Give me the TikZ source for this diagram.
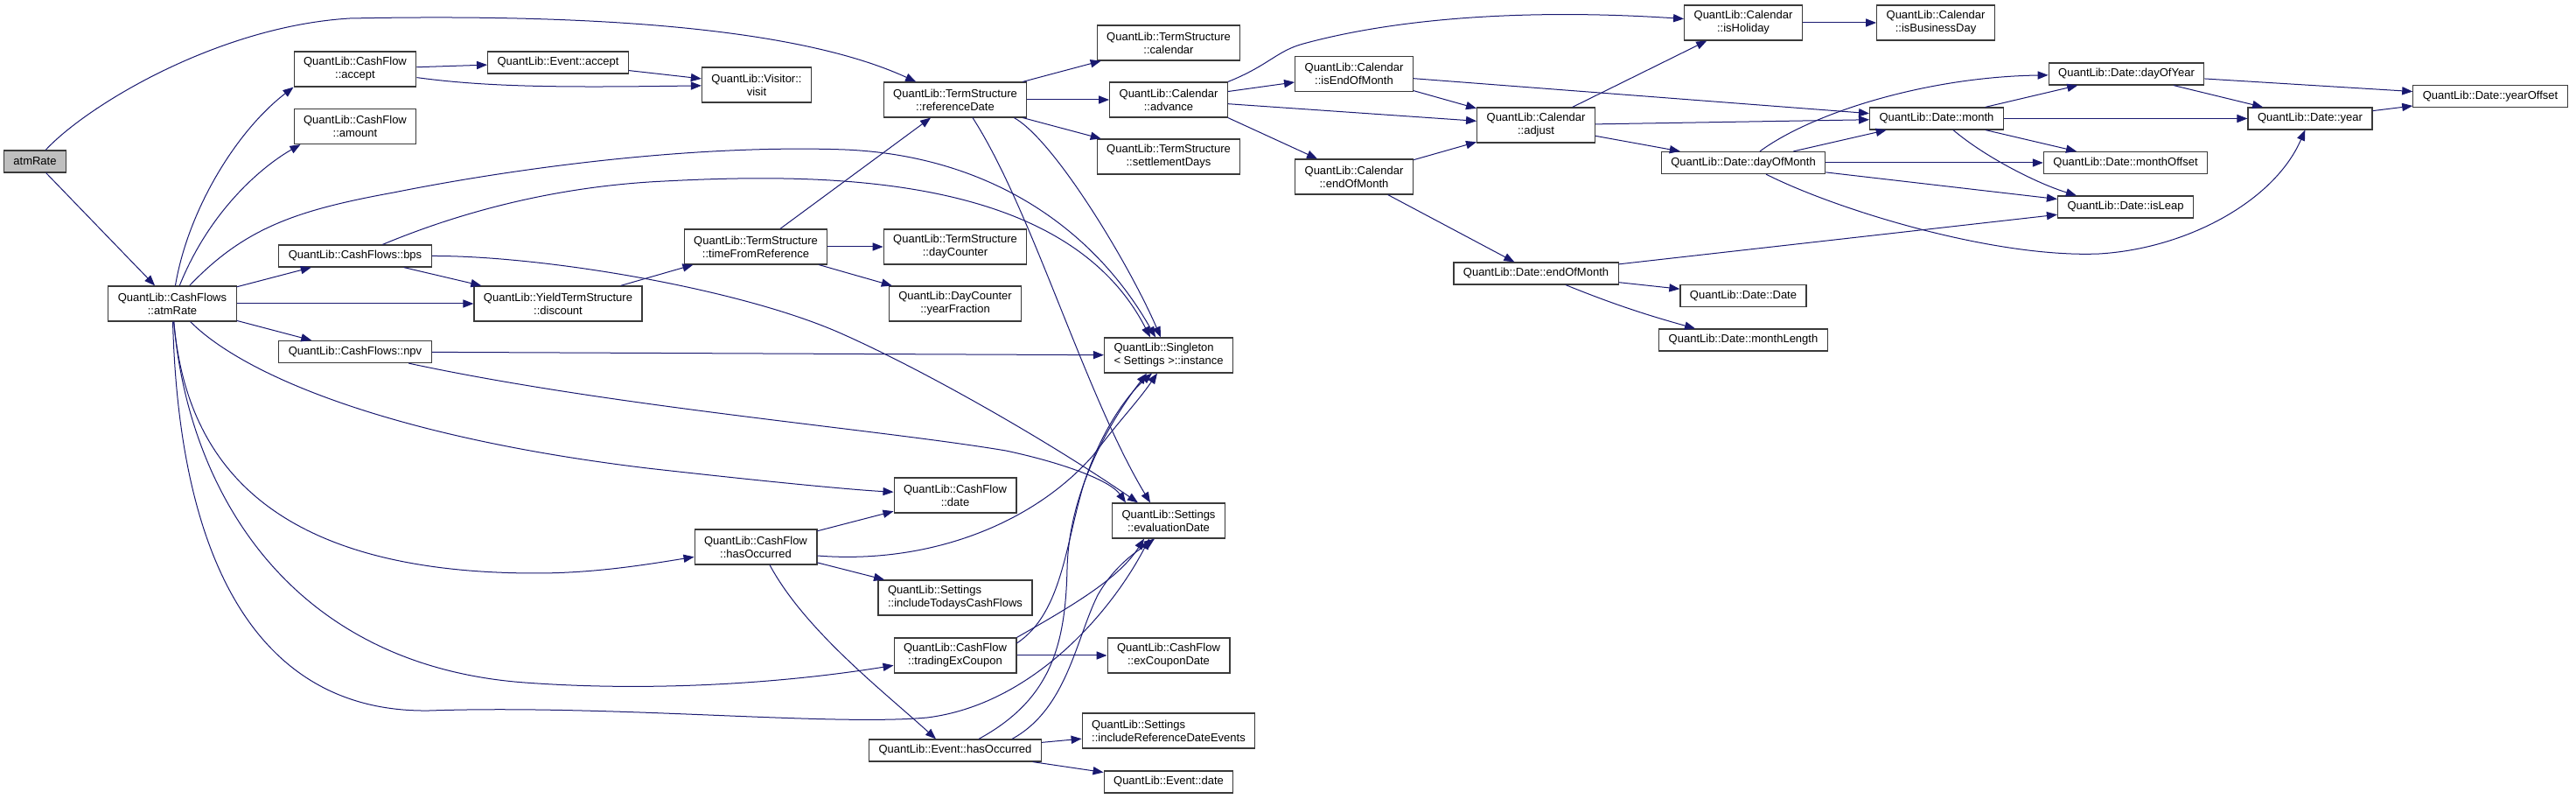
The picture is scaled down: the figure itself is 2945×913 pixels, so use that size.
\documentclass[tikz,border=0pt]{standalone}
\usepackage{fontspec}
\setmainfont{Liberation Sans}
\usepackage{tikz}
\usetikzlibrary{arrows.meta,calc}
\definecolor{callblue}{HTML}{191970}
\definecolor{rootgray}{HTML}{BFBFBF}
\definecolor{boxline}{HTML}{3A3A3A}

\begin{document}
\begin{tikzpicture}[
x=0.5pt,y=-0.5pt,
box/.style={draw=boxline,line width=0.6pt,fill=white,align=center,inner xsep=5.5pt,inner ysep=0pt,minimum height=12.5pt,font=\fontsize{6.5}{7.5}\selectfont},
tbox/.style={box,minimum height=20pt},
lbox/.style={tbox,align=left},
call/.style={-{Triangle[length=6pt,width=4.6pt]},line width=0.5pt,color=callblue}
]
\useasboundingbox (0,0) rectangle (2945,913);
\node[box,fill=rootgray] (root) at (40,184.5) {atmRate};
\node[tbox] (cfsAtm) at (197,347) {QuantLib::CashFlows\\::atmRate};
\node[tbox] (cfAccept) at (406,79) {QuantLib::CashFlow\\::accept};
\node[tbox] (cfAmount) at (406,144.5) {QuantLib::CashFlow\\::amount};
\node[box] (bps) at (406,292.5) {QuantLib::CashFlows::bps};
\node[box] (npv) at (406,402) {QuantLib::CashFlows::npv};
\node[tbox] (discount) at (638,347) {QuantLib::YieldTermStructure\\::discount};
\node[box] (evAccept) at (638,71.5) {QuantLib::Event::accept};
\node[tbox] (visit) at (865,97) {QuantLib::Visitor::\\visit};
\node[tbox] (refDate) at (1092,114) {QuantLib::TermStructure\\::referenceDate};
\node[tbox] (timeRef) at (864,282) {QuantLib::TermStructure\\::timeFromReference};
\node[tbox] (dayCounter) at (1092,282) {QuantLib::TermStructure\\::dayCounter};
\node[tbox] (yearFrac) at (1092,347) {QuantLib::DayCounter\\::yearFraction};
\node[tbox] (cfDate) at (1092,566) {QuantLib::CashFlow\\::date};
\node[tbox] (cfHasOcc) at (864,625) {QuantLib::CashFlow\\::hasOccurred};
\node[lbox] (inclToday) at (1092,683) {QuantLib::Settings\\::includeTodaysCashFlows};
\node[tbox] (tradingEx) at (1092,749) {QuantLib::CashFlow\\::tradingExCoupon};
\node[box] (evHasOcc) at (1092,857.5) {QuantLib::Event::hasOccurred};
\node[tbox] (tsCal) at (1336,49) {QuantLib::TermStructure\\::calendar};
\node[tbox] (advance) at (1336,114) {QuantLib::Calendar\\::advance};
\node[tbox] (settleDays) at (1336,179) {QuantLib::TermStructure\\::settlementDays};
\node[lbox] (instance) at (1336,406) {QuantLib::Singleton\\< Settings >::instance};
\node[tbox] (evalDate) at (1336,595) {QuantLib::Settings\\::evaluationDate};
\node[tbox] (exCoupon) at (1336,749) {QuantLib::CashFlow\\::exCouponDate};
\node[lbox] (inclRef) at (1336,835) {QuantLib::Settings\\::includeReferenceDateEvents};
\node[box] (evDate) at (1336,893.5) {QuantLib::Event::date};
\node[tbox] (isEom) at (1548,84.5) {QuantLib::Calendar\\::isEndOfMonth};
\node[tbox] (calEom) at (1548,202) {QuantLib::Calendar\\::endOfMonth};
\node[tbox] (adjust) at (1756,143) {QuantLib::Calendar\\::adjust};
\node[box] (dateEom) at (1756,312.5) {QuantLib::Date::endOfMonth};
\node[tbox] (isHoliday) at (1993,26) {QuantLib::Calendar\\::isHoliday};
\node[box] (dayOfMonth) at (1993,186) {QuantLib::Date::dayOfMonth};
\node[box] (dateDate) at (1993,338) {QuantLib::Date::Date};
\node[box] (monthLen) at (1993,388.5) {QuantLib::Date::monthLength};
\node[tbox] (isBusDay) at (2213,26) {QuantLib::Calendar\\::isBusinessDay};
\node[box] (month) at (2214,135.5) {QuantLib::Date::month};
\node[box] (dayOfYear) at (2431,84.5) {QuantLib::Date::dayOfYear};
\node[box] (monthOff) at (2430,186) {QuantLib::Date::monthOffset};
\node[box] (isLeap) at (2430,236.5) {QuantLib::Date::isLeap};
\node[box] (year) at (2641,135.5) {QuantLib::Date::year};
\node[box] (yearOff) at (2847,110) {QuantLib::Date::yearOffset};
\draw[call] (root) -- (cfsAtm);
\draw[call] (root) .. controls (100,120) and (250,30) .. (400,21) .. controls (700,15) and (920,35) .. (refDate);
\draw[call] (cfsAtm) .. controls (215,240) and (270,150) .. (cfAccept.south west);
\draw[call] (cfsAtm) .. controls (240,240) and (300,190) .. ($(cfAmount.south west)+(8,0)$);
\draw[call] (cfsAtm) -- (bps);
\draw[call] (cfsAtm) -- (discount);
\draw[call] (cfsAtm) -- (npv);
\draw[call] (cfsAtm) .. controls (280,260) and (340,240) .. (450,220) .. controls (600,190) and (800,165) .. (966,171) .. controls (1130,178) and (1250,260) .. ($(instance.north)+(-15,0)$);
\draw[call] (cfsAtm) .. controls (212,520) and (300,655) .. (613,655) .. controls (680,655) and (740,645) .. (cfHasOcc);
\draw[call] (cfsAtm) .. controls (215,560) and (330,760) .. (600,780) .. controls (750,791) and (900,780) .. (tradingEx);
\draw[call] (cfsAtm) .. controls (205,650) and (300,815) .. (491,812) .. controls (700,805) and (950,830) .. (1060,820) .. controls (1180,805) and (1270,700) .. ($(evalDate.south)+(-22,0)$);
\draw[call] (cfsAtm) .. controls (280,430) and (450,500) .. (740,535) .. controls (900,553) and (980,560) .. (cfDate);
\draw[call] (cfAccept) -- (evAccept);
\draw[call] (cfAccept) .. controls (560,100) and (650,100) .. (visit);
\draw[call] (evAccept) -- (visit);
\draw[call] (bps) -- (discount);
\draw[call] (bps) .. controls (520,245) and (630,213) .. (760,207) .. controls (950,197) and (1220,200) .. ($(instance.north)+(-21,0)$);
\draw[call] (bps.east) .. controls (620,292) and (850,330) .. (966,383) .. controls (1060,425) and (1200,505) .. ($(evalDate.north)+(-35,0)$);
\draw[call] (npv) -- (instance);
\draw[call] (npv) .. controls (700,465) and (1000,490) .. (1150,515) .. controls (1220,530) and (1270,550) .. ($(evalDate.north)+(-49,0)$);
\draw[call] (discount) -- (timeRef);
\draw[call] (refDate) -- (tsCal);
\draw[call] (refDate) -- (advance);
\draw[call] (refDate) -- (settleDays);
\draw[call] ($(refDate.south east)+(-15,0)$) .. controls (1205,160) and (1290,300) .. ($(instance.north)+(-9,0)$);
\draw[call] ($(refDate.south)+(20,0)$) .. controls (1180,240) and (1240,450) .. ($(evalDate.north)+(-21,0)$);
\draw[call] (timeRef) -- (refDate);
\draw[call] (timeRef) -- (dayCounter);
\draw[call] (timeRef) -- (yearFrac);
\draw[call] (cfHasOcc) -- (cfDate);
\draw[call] ($(cfHasOcc.east)+(0,10)$) .. controls (1060,645) and (1180,600) .. (1250,520) .. controls (1280,480) and (1300,460) .. ($(instance.south)+(-13,0)$);
\draw[call] (cfHasOcc) -- (inclToday);
\draw[call] ($(cfHasOcc.south)+(16,0)$) .. controls (920,720) and (1010,790) .. ($(evHasOcc.north)+(-22,0)$);
\draw[call] ($(tradingEx.east)+(0,-14)$) .. controls (1215,700) and (1218,620) .. (1240,550) .. controls (1260,490) and (1290,450) .. ($(instance.south)+(-19,0)$);
\draw[call] (tradingEx.north east) .. controls (1230,690) and (1280,660) .. ($(evalDate.south)+(-28,0)$);
\draw[call] (tradingEx) -- (exCoupon);
\draw[call] ($(evHasOcc.north)+(27,0)$) .. controls (1200,800) and (1218,740) .. (1220,650) .. controls (1222,560) and (1270,480) .. ($(instance.south)+(-25,0)$);
\draw[call] ($(evHasOcc.north)+(65,0)$) .. controls (1220,810) and (1230,730) .. (1255,680) .. controls (1275,645) and (1300,630) .. ($(evalDate.south)+(-16,0)$);
\draw[call] (evHasOcc) -- (inclRef);
\draw[call] (evHasOcc) -- (evDate);
\draw[call] (advance.north east) .. controls (1450,75) and (1460,58) .. (1490,50) .. controls (1600,20) and (1750,10) .. (isHoliday);
\draw[call] (advance) -- (isEom);
\draw[call] (advance) -- (adjust);
\draw[call] (advance.south east) -- ($(calEom.north west)+(26,0)$);
\draw[call] (isEom) -- (adjust);
\draw[call] (isEom) -- (month);
\draw[call] (calEom) -- (adjust);
\draw[call] (calEom) -- (dateEom);
\draw[call] (adjust) -- (isHoliday);
\draw[call] (adjust) -- (month);
\draw[call] (adjust) -- (dayOfMonth);
\draw[call] (isHoliday) -- (isBusDay);
\draw[call] (dayOfMonth) -- (month);
\draw[call] ($(dayOfMonth.north)+(19,0)$) .. controls (2070,130) and (2200,88) .. (dayOfYear);
\draw[call] (dayOfMonth) -- (monthOff);
\draw[call] (dayOfMonth) -- (isLeap);
\draw[call] ($(dayOfMonth.south)+(26,0)$) .. controls (2100,240) and (2280,295) .. (2400,290) .. controls (2500,284) and (2600,230) .. (year);
\draw[call] (dateEom) -- (isLeap);
\draw[call] (dateEom) -- (dateDate);
\draw[call] ($(dateEom.south)+(34,0)$) .. controls (1850,350) and (1890,362) .. ($(monthLen.north)+(-55,0)$);
\draw[call] (month) -- (dayOfYear);
\draw[call] (month) -- (year);
\draw[call] (month) -- (monthOff);
\draw[call] ($(month.south)+(19,0)$) .. controls (2270,180) and (2330,210) .. ($(isLeap.north west)+(22,0)$);
\draw[call] (dayOfYear) -- (year);
\draw[call] (dayOfYear) -- (yearOff);
\draw[call] (year) -- (yearOff);
\end{tikzpicture}
\end{document}
